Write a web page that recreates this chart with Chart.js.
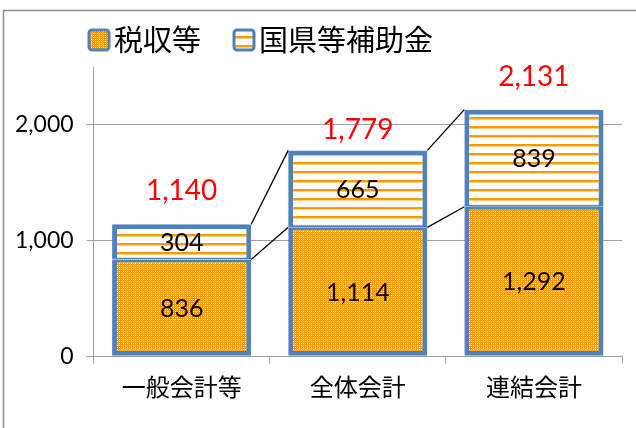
<!DOCTYPE html>
<html>
<head>
<meta charset="utf-8">
<script src="https://cdn.jsdelivr.net/npm/chart.js@4.4.1/dist/chart.umd.min.js"></script>
<style>
html, body { margin: 0; padding: 0; background: #fff; overflow: hidden; }
canvas { display: block; }
</style>
</head>
<body>
<canvas id="barchart" width="636" height="428"></canvas>
<script>
// data
var categories = ["一般会計等", "全体会計", "連結会計"];
var seriesNames = ["税収等", "国県等補助金"];
var zeishu = [836, 1114, 1292];   // 税収等
var hojokin = [304, 665, 839];    // 国県等補助金
var totals = [1140, 1779, 2131];
var yTicks = [0, 1000, 2000];

var BLUE = "#4f81bd";
var ORANGE = "#ff9900";
var GRAY = "#a0a0a0";
var NUM_FONT = "Lato, 'Liberation Sans', sans-serif";
var JP_FONT = "'Noto Sans CJK JP', sans-serif";
var totalLift = [33, 20, 33]; // how far the red totals sit above each bar

var ctx = document.getElementById("barchart").getContext("2d");

// fill patterns (dotted orange / orange stripes)
var dotTile = document.createElement("canvas");
dotTile.width = 4; dotTile.height = 4;
var g = dotTile.getContext("2d");
g.fillStyle = ORANGE; g.fillRect(0, 0, 4, 4);
g.fillStyle = "#ffffff"; g.fillRect(1, 1, 1, 1); g.fillRect(3, 3, 1, 1);
g.fillStyle = "#ffd9a0"; g.fillRect(3, 1, 1, 1); g.fillRect(1, 3, 1, 1);
var dotPattern = ctx.createPattern(dotTile, "repeat");

var stripeTile = document.createElement("canvas");
stripeTile.width = 4; stripeTile.height = 9;
g = stripeTile.getContext("2d");
g.fillStyle = "#ffffff"; g.fillRect(0, 0, 4, 9);
g.fillStyle = ORANGE; g.fillRect(0, 0, 4, 2);
g.fillStyle = "#ffcf85"; g.fillRect(0, 2, 4, 1);
var stripePattern = ctx.createPattern(stripeTile, "repeat");

var patterns = [dotPattern, stripePattern];

function fmt(v) {
    return v.toLocaleString("en-US");
}

// outer frame of the chart
var framePlugin = {
    id: "frame",
    beforeDraw: function(chart) {
        var c = chart.ctx;
        c.save();
        c.strokeStyle = "#8c8c8c";
        c.lineWidth = 1.5;
        c.strokeRect(3.5, 10.5, 800, 600);
        c.restore();
    }
};

// black series lines joining the bars
var seriesLines = {
    id: "seriesLines",
    beforeDatasetsDraw: function(chart) {
        var c = chart.ctx;
        c.save();
        c.strokeStyle = "#000";
        c.lineWidth = 1.3;
        chart.data.datasets.forEach(function(ds, d) {
            var bars = chart.getDatasetMeta(d).data;
            for (var i = 0; i < bars.length - 1; i++) {
                var a = bars[i], b = bars[i + 1];
                c.beginPath();
                c.moveTo(a.x + a.width / 2, a.y);
                c.lineTo(b.x - b.width / 2, b.y);
                c.stroke();
            }
        });
        c.restore();
    }
};

// values inside the bars and red totals above
var valueLabels = {
    id: "valueLabels",
    afterDatasetsDraw: function(chart) {
        var c = chart.ctx;
        c.save();
        c.textAlign = "center";
        c.textBaseline = "middle";
        chart.data.datasets.forEach(function(ds, d) {
            var bars = chart.getDatasetMeta(d).data;
            bars.forEach(function(el, i) {
                c.fillStyle = "#000";
                c.font = "25px " + NUM_FONT;
                c.fillText(fmt(ds.data[i]), el.x, (el.y + el.base) / 2 + 1);
                if (d == chart.data.datasets.length - 1) {
                    c.fillStyle = "#ff0000";
                    c.font = "28px " + NUM_FONT;
                    c.fillText(fmt(totals[i]), el.x, el.y - totalLift[i]);
                }
            });
        });
        c.restore();
    }
};

// legend at the top left, drawn like the excel one
var legendBoxes = {
    id: "legendBoxes",
    afterDraw: function(chart) {
        var c = chart.ctx;
        var x = 89;
        c.save();
        c.font = "29px " + JP_FONT;
        c.textBaseline = "middle";
        c.textAlign = "left";
        chart.data.datasets.forEach(function(ds, d) {
            c.beginPath();
            c.roundRect(x, 30, 20, 20, 3);
            c.fillStyle = ds.backgroundColor;
            c.fill();
            c.strokeStyle = BLUE;
            c.lineWidth = 3;
            c.stroke();
            c.fillStyle = "#000";
            c.fillText(ds.label, x + 25, 40);
            x += 25 + c.measureText(ds.label).width + 33;
        });
        c.restore();
    }
};

var myBarChart = new Chart(ctx, {
    type: "bar",
    data: {
        labels: categories,
        datasets: [{
            label: seriesNames[0],
            data: zeishu,
            backgroundColor: patterns[0],
            borderColor: BLUE,
            borderWidth: {top: 3, bottom: 5, left: 5, right: 5},
            borderSkipped: false,
            barPercentage: 0.79,
            categoryPercentage: 1
        }, {
            label: seriesNames[1],
            data: hojokin,
            backgroundColor: patterns[1],
            borderColor: BLUE,
            borderWidth: {top: 5, bottom: 2, left: 5, right: 5},
            borderSkipped: false,
            barPercentage: 0.79,
            categoryPercentage: 1
        }]
    },
    options: {
        responsive: false,
        animation: false,
        layout: {padding: {left: 2, right: 14, top: 67, bottom: 18}},
        plugins: {
            legend: {display: false},
            tooltip: {enabled: false}
        },
        scales: {
            x: {
                stacked: true,
                grid: {offset: true, drawOnChartArea: false, tickLength: 7, color: GRAY, tickColor: GRAY},
                border: {color: GRAY, width: 1},
                ticks: {color: "#000", font: {family: JP_FONT, size: 24}, padding: 9}
            },
            y: {
                stacked: true,
                min: 0,
                max: 2500,
                afterBuildTicks: function(axis) {
                    axis.ticks = yTicks.map(function(v) { return {value: v}; });
                },
                grid: {color: GRAY, tickColor: GRAY, tickLength: 7},
                border: {color: GRAY, width: 1},
                ticks: {
                    color: "#000",
                    font: {family: NUM_FONT, size: 23},
                    padding: 13,
                    callback: function(v) { return fmt(v); }
                }
            }
        }
    },
    plugins: [framePlugin, seriesLines, valueLabels, legendBoxes]
});
</script>
</body>
</html>
